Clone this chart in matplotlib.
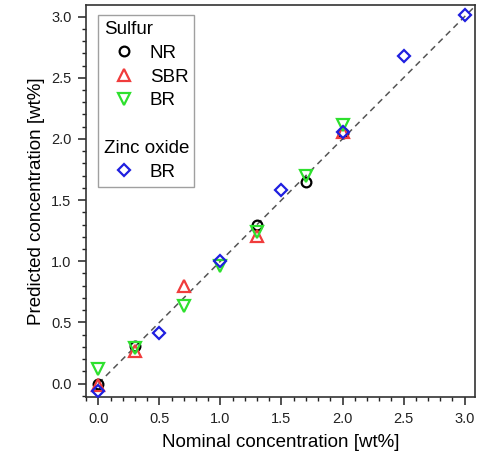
import matplotlib
matplotlib.use("Agg")
import matplotlib.pyplot as plt
from matplotlib.lines import Line2D
from matplotlib.text import Text
from matplotlib.legend_handler import HandlerBase
from matplotlib.ticker import MultipleLocator, FormatStrFormatter

plt.rcParams["font.family"] = ["Liberation Sans", "DejaVu Sans"]

# sulfur, natural rubber
nr_x = [0.0, 0.3, 1.3, 1.7, 2.0]
nr_y = [0.00, 0.31, 1.30, 1.65, 2.05]
# sulfur, SBR
sbr_x = [0.0, 0.3, 0.7, 1.3, 2.0]
sbr_y = [-0.01, 0.27, 0.80, 1.21, 2.06]
# sulfur, BR
br_x = [0.0, 0.3, 0.7, 1.0, 1.3, 1.7, 2.0]
br_y = [0.12, 0.29, 0.63, 0.96, 1.24, 1.70, 2.11]
# zinc oxide, BR
zno_x = [0.0, 0.5, 1.0, 1.5, 2.0, 2.5, 3.0]
zno_y = [-0.06, 0.41, 1.00, 1.58, 2.06, 2.68, 3.01]

ident = [0.0, 3.1]


class Header:
    """legend row that is just a left-aligned group title"""
    def __init__(self, text):
        self.text = text


class HeaderHandler(HandlerBase):
    def create_artists(self, legend, orig_handle, xdescent, ydescent,
                       width, height, fontsize, trans):
        return [Text(-xdescent, 0, orig_handle.text, fontsize=fontsize,
                     ha="left", va="baseline", transform=trans)]


fig = plt.figure(figsize=(4.81, 4.55), dpi=100)
ax = fig.add_axes([0.179, 0.1275, 0.8085, 0.8615])

ax.plot(ident, ident, ls=(0, (4, 3)), color="#555555", lw=1.1, zorder=1)

mk = dict(ls="none", mfc="none", mew=1.6, zorder=3)
ax.plot(nr_x, nr_y, marker="o", ms=7, mec="black", **mk)
ax.plot(sbr_x, sbr_y, marker="^", ms=8, mec="#f03c3c", **mk)
ax.plot(br_x, br_y, marker="v", ms=8, mec="#2ee02e", **mk)
ax.plot(zno_x, zno_y, marker="D", ms=6, mec="#1f1fe0", **mk)

ax.set_xlim(-0.1, 3.085)
ax.set_ylim(-0.11, 3.095)
for axis in (ax.xaxis, ax.yaxis):
    axis.set_major_locator(MultipleLocator(0.5))
    axis.set_minor_locator(MultipleLocator(0.1))
    axis.set_major_formatter(FormatStrFormatter("%.1f"))
ax.tick_params(which="major", direction="out", length=5.5, width=1.1,
               labelsize=10.5, colors="#222222", pad=5)
ax.tick_params(which="minor", direction="out", length=3, width=1.0, colors="#222222")
for s in ax.spines.values():
    s.set_linewidth(1.2)
    s.set_color("#333333")

ax.set_xlabel("Nominal concentration [wt%]", fontsize=13.5, labelpad=6)
ax.set_ylabel("Predicted concentration [wt%]", fontsize=13.5, labelpad=4)

handles = [
    Header("Sulfur"),
    Line2D([], [], marker="o", ms=7, mec="black", **mk),
    Line2D([], [], marker="^", ms=8, mec="#f03c3c", **mk),
    Line2D([], [], marker="v", ms=8, mec="#2ee02e", **mk),
    Header(""),
    Header("Zinc oxide"),
    Line2D([], [], marker="D", ms=6, mec="#1f1fe0", **mk),
]
labels = [" ", "NR", "SBR", "BR", " ", " ", "BR"]
ax_w = 0.8085 * 481
ax_h = 0.8615 * 455
leg = ax.legend(handles, labels, loc="upper left",
                bbox_to_anchor=(12 / ax_w, 1 - 10 / ax_h),
                handler_map={Header: HeaderHandler()},
                fontsize=13.5, frameon=True, fancybox=False, edgecolor="#888888",
                handlelength=2.15, handletextpad=0.3, labelspacing=0.36,
                borderpad=0.3, borderaxespad=0)
leg.get_frame().set_linewidth(1.0)

fig.savefig("out.png", dpi=100)
